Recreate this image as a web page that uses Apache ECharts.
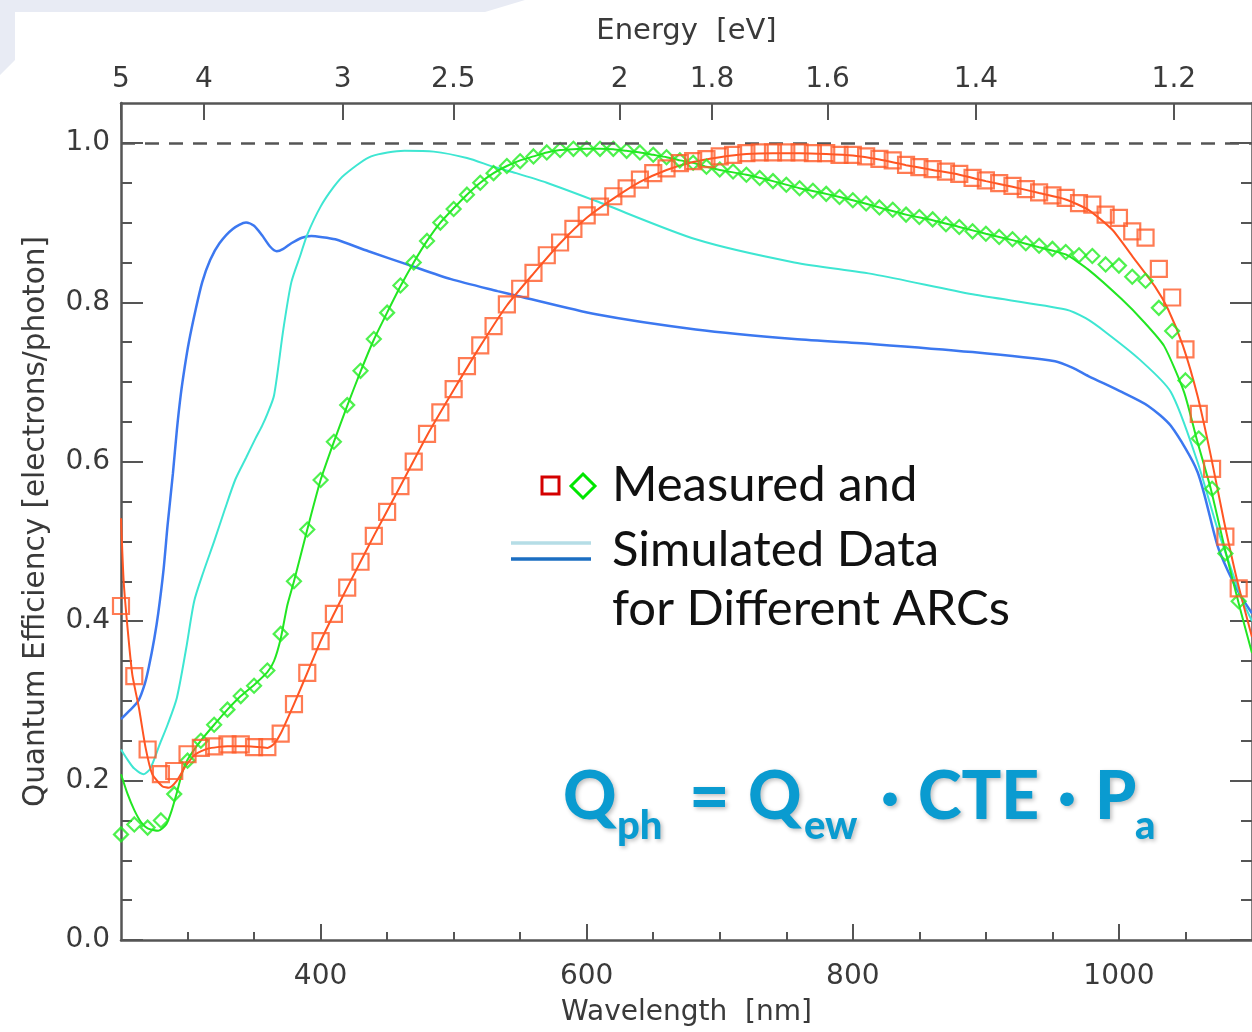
<!DOCTYPE html>
<html><head><meta charset="utf-8">
<script src="https://cdn.jsdelivr.net/npm/echarts@6/dist/echarts.min.js"></script>
<style>html,body{margin:0;padding:0;background:#fff}#c{width:1252px;height:1032px}</style>
</head><body><div id="c"></div>
<script>
// ---------------- data ----------------
const wlMajorTicks = [400, 600, 800, 1000];
const wlMinorTicks = [300, 350, 450, 500, 550, 650, 700, 750, 850, 900, 950, 1050];
const qeMajorTicks = [0, 0.2, 0.4, 0.6, 0.8, 1.0];
const qeMinorTicks = [0.05, 0.1, 0.15, 0.25, 0.3, 0.35, 0.45, 0.5, 0.55, 0.65, 0.7, 0.75, 0.85, 0.9, 0.95];
const energyTicks = [5, 4, 3, 2.5, 2, 1.8, 1.6, 1.4, 1.2];
const energyLabels = ['5', '4', '3', '2.5', '2', '1.8', '1.6', '1.4', '1.2'];
const hcEnergy = 1249.5; // nm·eV as drawn on the top axis

const blueWl = [250,256,263,268,271,275,278,282,285,289,292,295,298,301,306,311,317,324,334,344,350,356,362,367,372,378,386,393,400,411,436,466,498,533,548,607,682,756,816,890,952,965,977,1002,1022,1039,1059,1074,1082,1091,1100];
const blueQE = [0.277,0.287,0.300,0.322,0.343,0.378,0.410,0.465,0.520,0.585,0.640,0.685,0.720,0.750,0.790,0.825,0.853,0.874,0.892,0.900,0.896,0.884,0.870,0.864,0.867,0.874,0.881,0.883,0.882,0.879,0.864,0.847,0.829,0.814,0.808,0.785,0.766,0.754,0.7475,0.7375,0.726,0.718,0.7075,0.6875,0.670,0.645,0.5875,0.495,0.4625,0.433,0.41];

const cyanWl = [250,255,260,267,272,279,285,292,299,305,312,320,328,336,344,351,356,360,365,372,378,385,390,400,410,418,438,463,485,510,530,547,570,607,682,756,816,890,960,975,990,1015,1039,1059,1074,1086,1093,1100];
const cyanQE = [0.239,0.226,0.215,0.208,0.215,0.245,0.270,0.304,0.366,0.425,0.462,0.500,0.540,0.578,0.605,0.629,0.645,0.660,0.683,0.766,0.825,0.860,0.885,0.920,0.945,0.960,0.983,0.990,0.989,0.981,0.970,0.962,0.950,0.927,0.879,0.850,0.835,0.810,0.791,0.780,0.7625,0.729,0.6875,0.600,0.516,0.4575,0.425,0.40];

const greenLineWl = [250,255,260,265,270,278,284,288,292,296,300,310,320,330,340,350,360,365,370,375,380,390,400,410,420,430,440,450,460,470,480,490,500,510,520,530,540,550,560,570,580,590,600,610,620,630,640,650,660,670,680,690,700,720,740,760,780,800,820,840,860,880,900,920,940,960,977,1002,1019,1034,1049,1059,1069,1079,1091,1100];
const greenLineQE = [0.208,0.183,0.163,0.148,0.140,0.137,0.145,0.162,0.185,0.210,0.226,0.250,0.270,0.289,0.306,0.320,0.336,0.350,0.378,0.420,0.450,0.515,0.577,0.625,0.670,0.713,0.753,0.787,0.820,0.850,0.877,0.900,0.918,0.935,0.950,0.962,0.971,0.978,0.983,0.988,0.991,0.992,0.9925,0.9925,0.992,0.990,0.988,0.985,0.982,0.978,0.975,0.970,0.966,0.960,0.952,0.943,0.936,0.928,0.919,0.910,0.903,0.8945,0.886,0.878,0.869,0.860,0.841,0.804,0.775,0.745,0.687,0.625,0.566,0.495,0.416,0.36];

const orangeLineWl = [250,252,255,258.5,263.5,268.5,273.5,281,286,292,298.5,306,315,330,345,360,365,370,380,390,400,410,420,440,460,480,500,520,540,560,580,600,620,640,660,680,700,720,740,760,780,800,820,840,860,880,900,920,940,960,977,995,1010,1027,1037,1048,1059,1069,1079,1089,1100];
const orangeLineQE = [0.529,0.450,0.390,0.333,0.291,0.241,0.208,0.193,0.191,0.200,0.218,0.233,0.240,0.243,0.243,0.241,0.246,0.259,0.296,0.335,0.375,0.409,0.442,0.507,0.5695,0.633,0.690,0.745,0.796,0.836,0.874,0.906,0.930,0.951,0.966,0.976,0.982,0.986,0.987,0.987,0.986,0.984,0.979,0.972,0.966,0.960,0.952,0.945,0.937,0.929,0.916,0.891,0.858,0.820,0.791,0.746,0.683,0.608,0.525,0.450,0.38];

const measWl = [250,260,270,280,290,300,310,320,330,340,350,360,370,380,390,400,410,420,430,440,450,460,470,480,490,500,510,520,530,540,550,560,570,580,590,600,610,620,630,640,650,660,670,680,690,700,710,720,730,740,750,760,770,780,790,800,810,820,830,840,850,860,870,880,890,900,910,920,930,940,950,960,970,980,990,1000,1010,1020,1030,1040,1050,1060,1070,1080,1090];
const diamondQE = [0.1325,0.145,0.141,0.150,0.183,0.225,0.250,0.270,0.289,0.306,0.319,0.338,0.384,0.450,0.515,0.577,0.625,0.671,0.714,0.754,0.787,0.821,0.850,0.877,0.900,0.917,0.935,0.950,0.962,0.971,0.977,0.983,0.988,0.991,0.9925,0.9925,0.9925,0.9925,0.990,0.988,0.985,0.982,0.978,0.975,0.970,0.9665,0.964,0.960,0.956,0.952,0.9475,0.943,0.940,0.936,0.932,0.928,0.924,0.919,0.916,0.910,0.907,0.904,0.898,0.8945,0.889,0.886,0.882,0.879,0.874,0.871,0.867,0.863,0.859,0.858,0.8475,0.846,0.832,0.827,0.793,0.764,0.702,0.629,0.566,0.485,0.425];
const squareQE = [0.419,0.331,0.239,0.208,0.212,0.233,0.241,0.243,0.2455,0.2455,0.242,0.242,0.259,0.296,0.335,0.375,0.409,0.442,0.4745,0.507,0.537,0.5695,0.600,0.635,0.662,0.691,0.720,0.746,0.770,0.7975,0.817,0.837,0.859,0.875,0.892,0.909,0.920,0.933,0.943,0.954,0.962,0.968,0.9745,0.977,0.9795,0.983,0.985,0.987,0.988,0.988,0.988,0.988,0.987,0.987,0.985,0.985,0.983,0.980,0.978,0.9725,0.9695,0.967,0.964,0.961,0.956,0.953,0.9495,0.946,0.942,0.938,0.934,0.931,0.9245,0.9225,0.910,0.906,0.889,0.881,0.842,0.806,0.741,0.660,0.591,0.506,0.441];

// ---------------- chart ----------------
const X0 = 250, X1 = 1100, Y0 = 0, Y1 = 1.05;
const axisColor = '#555';
const txt = { fontFamily: 'DejaVu Sans', fontSize: 28, color: '#3a3a3a' };
const pairs = (xs, ys) => xs.map((x, i) => [x, ys[i]]);
const energyPos = energyTicks.map(e => Math.max(X0, hcEnergy / e));
const energyLabelFor = v => {
  for (let i = 0; i < energyPos.length; i++) if (Math.abs(energyPos[i] - v) < 1e-6) return energyLabels[i];
  return '';
};
const tickLine = { color: axisColor, width: 2 };
const mainLine = { show: true, onZero: false, lineStyle: { color: axisColor, width: 2.5 } };
const noLine = { show: false, onZero: false };
const shadow = { textShadowColor: 'rgba(0,0,0,0.25)', textShadowBlur: 4, textShadowOffsetX: 2, textShadowOffsetY: 2 };
const fBig = { fontFamily: 'Lato', fontWeight: 900, fontSize: 66, fill: '#0a9bd0', verticalAlign: 'middle', ...shadow };
const fSub = { fontFamily: 'Lato', fontWeight: 900, fontSize: 40, fill: '#0a9bd0', verticalAlign: 'middle', ...shadow };
const fLeg = { fontFamily: 'Lato', fontSize: 49, fill: '#111', align: 'left', verticalAlign: 'middle' };

const chart = echarts.init(document.getElementById('c'), null, { renderer: 'canvas' });
chart.setOption({
  animation: false,
  backgroundColor: '#ffffff',
  grid: { left: 121, top: 103, width: 1140, height: 839.5, containLabel: false },
  xAxis: [
    { type: 'value', position: 'bottom', min: X0, max: X1, axisLine: mainLine,
      axisTick: { show: true, inside: true, length: 16, customValues: wlMajorTicks, lineStyle: tickLine },
      axisLabel: { show: true, customValues: wlMajorTicks, margin: 23, formatter: v => String(v), ...txt },
      splitLine: { show: false },
      name: 'Wavelength  [nm]', nameLocation: 'middle', nameGap: 59, nameTextStyle: { ...txt } },
    { type: 'value', position: 'bottom', min: X0, max: X1, axisLine: noLine,
      axisTick: { show: true, inside: true, length: 8, customValues: wlMinorTicks, lineStyle: tickLine },
      axisLabel: { show: false }, splitLine: { show: false } },
    { type: 'value', position: 'top', min: X0, max: X1, axisLine: mainLine,
      axisTick: { show: true, inside: true, length: 17, customValues: energyPos, lineStyle: tickLine },
      axisLabel: { show: true, customValues: energyPos, margin: 9, formatter: energyLabelFor, ...txt },
      splitLine: { show: false },
      name: 'Energy  [eV]', nameLocation: 'middle', nameGap: 57, nameTextStyle: { ...txt, fontSize: 29 } }
  ],
  yAxis: [
    { type: 'value', position: 'left', min: Y0, max: Y1, axisLine: mainLine,
      axisTick: { show: true, inside: true, length: 22, customValues: qeMajorTicks, lineStyle: tickLine },
      axisLabel: { show: true, customValues: qeMajorTicks, margin: 11, formatter: v => v.toFixed(1), ...txt },
      splitLine: { show: false },
      name: 'Quantum Efficiency [electrons/photon]', nameLocation: 'middle', nameGap: 70, nameRotate: 90,
      nameTextStyle: { ...txt, fontSize: 29.5 } },
    { type: 'value', position: 'left', min: Y0, max: Y1, axisLine: noLine,
      axisTick: { show: true, inside: true, length: 11, customValues: qeMinorTicks, lineStyle: tickLine },
      axisLabel: { show: false }, splitLine: { show: false } },
    { type: 'value', position: 'right', min: Y0, max: Y1, axisLine: mainLine,
      axisTick: { show: true, inside: true, length: 22, customValues: qeMajorTicks, lineStyle: tickLine },
      axisLabel: { show: false }, splitLine: { show: false } },
    { type: 'value', position: 'right', min: Y0, max: Y1, axisLine: noLine,
      axisTick: { show: true, inside: true, length: 11, customValues: qeMinorTicks, lineStyle: tickLine },
      axisLabel: { show: false }, splitLine: { show: false } }
  ],
  series: [
    { type: 'line', name: 'Simulated (ARC A)', data: pairs(blueWl, blueQE), showSymbol: false, smooth: 0.25,
      lineStyle: { color: '#3c78f0', width: 2.5 }, silent: true, z: 2,
      markLine: { silent: true, symbol: 'none', label: { show: false }, animation: false,
        lineStyle: { color: '#555', width: 2.5, type: [14, 10] }, data: [{ yAxis: 1.0 }] } },
    { type: 'line', name: 'Simulated (ARC B)', data: pairs(cyanWl, cyanQE), showSymbol: false, smooth: 0.25,
      lineStyle: { color: '#3ee6d2', width: 2 }, silent: true, z: 2 },
    { type: 'line', name: 'Simulated (ARC C)', data: pairs(greenLineWl, greenLineQE), showSymbol: false, smooth: 0.2,
      lineStyle: { color: '#22e622', width: 2 }, silent: true, z: 3 },
    { type: 'line', name: 'Simulated (ARC D)', data: pairs(orangeLineWl, orangeLineQE), showSymbol: false, smooth: 0.2,
      lineStyle: { color: '#ff5522', width: 2 }, silent: true, z: 3 },
    { type: 'scatter', name: 'Measured (diamonds)', data: pairs(measWl, diamondQE), symbol: 'diamond', symbolSize: 14,
      itemStyle: { color: 'rgba(0,0,0,0)', borderColor: '#22ee22', borderWidth: 2.2 }, silent: true, z: 4 },
    { type: 'scatter', name: 'Measured (squares)', data: pairs(measWl, squareQE), symbol: 'rect', symbolSize: 16,
      itemStyle: { color: 'rgba(0,0,0,0)', borderColor: '#ff5a28', borderWidth: 2.2 }, silent: true, z: 5 }
  ],
  graphic: [
    { type: 'polygon', silent: true, z: -10,
      shape: { points: [[0,0],[525,0],[485,12],[15,12],[15,60],[0,75]] },
      style: { fill: '#e8ebf4' } },
    // legend
    { type: 'rect', silent: true, shape: { x: 542, y: 477, width: 17, height: 17 },
      style: { fill: 'none', stroke: '#d40000', lineWidth: 3 } },
    { type: 'polygon', silent: true, shape: { points: [[583,474],[595,486],[583,498],[571,486]] },
      style: { fill: 'none', stroke: '#00e600', lineWidth: 3 } },
    { type: 'line', silent: true, shape: { x1: 511, y1: 543, x2: 591, y2: 543 },
      style: { stroke: '#b5dde6', lineWidth: 3.5 } },
    { type: 'line', silent: true, shape: { x1: 511, y1: 559, x2: 591, y2: 559 },
      style: { stroke: '#1b6ec2', lineWidth: 3.5 } },
    { type: 'text', silent: true, x: 612, y: 485, style: { text: 'Measured and', ...fLeg } },
    { type: 'text', silent: true, x: 612, y: 550, style: { text: 'Simulated Data', ...fLeg } },
    { type: 'text', silent: true, x: 612, y: 609, style: { text: 'for Different ARCs', ...fLeg } },
    // formula
    { type: 'group', silent: true, children: [
      { type: 'text', x: 563, y: 798, style: { text: 'Q', ...fBig } },
      { type: 'text', x: 617, y: 826, style: { text: 'ph', ...fSub } },
      { type: 'text', x: 689, y: 798, style: { text: '=', ...fBig, fontSize: 70 } },
      { type: 'text', x: 748, y: 798, style: { text: 'Q', ...fBig } },
      { type: 'text', x: 804, y: 826, style: { text: 'ew', ...fSub } },
      { type: 'text', x: 890, y: 798, style: { text: '·', ...fBig, align: 'center' } },
      { type: 'text', x: 918, y: 798, style: { text: 'CTE', ...fBig } },
      { type: 'text', x: 1067, y: 798, style: { text: '·', ...fBig, align: 'center' } },
      { type: 'text', x: 1095, y: 798, style: { text: 'P', ...fBig } },
      { type: 'text', x: 1135, y: 826, style: { text: 'a', ...fSub } }
    ] }
  ]
});
</script>
</body></html>
